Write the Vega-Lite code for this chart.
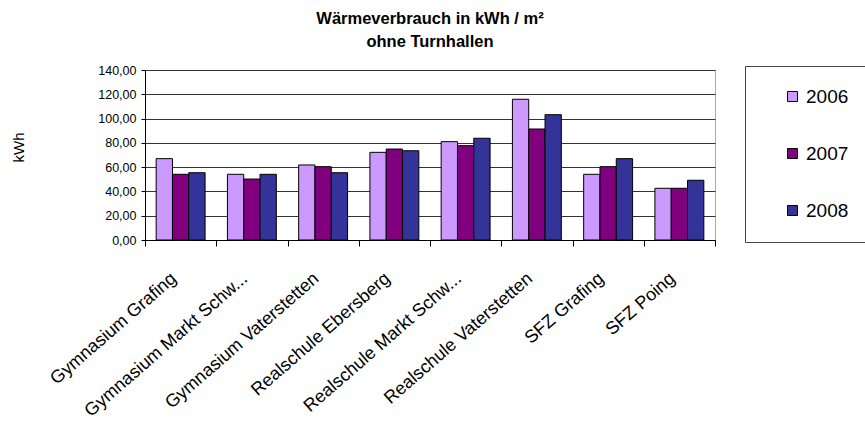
{
  "$schema": "https://vega.github.io/schema/vega-lite/v6.json",
  "autosize": {"type": "none"},
  "width": 570,
  "height": 170,
  "padding": {"left": 145, "top": 70, "right": 150, "bottom": 192},
  "background": "white",
  "title": {
    "text": ["Wärmeverbrauch in kWh / m²", "ohne Turnhallen"],
    "font": "Liberation Sans",
    "fontSize": 16.5,
    "fontWeight": "bold",
    "lineHeight": 23,
    "color": "#000",
    "anchor": "middle",
    "offset": 14
  },
  "data": {
    "values": [
      {"schule": "Gymnasium Grafing", "jahr": "2006", "wert": 67.0},
      {"schule": "Gymnasium Grafing", "jahr": "2007", "wert": 54.1},
      {"schule": "Gymnasium Grafing", "jahr": "2008", "wert": 55.4},
      {"schule": "Gymnasium Markt Schw...", "jahr": "2006", "wert": 54.1},
      {"schule": "Gymnasium Markt Schw...", "jahr": "2007", "wert": 50.2},
      {"schule": "Gymnasium Markt Schw...", "jahr": "2008", "wert": 54.1},
      {"schule": "Gymnasium Vaterstetten", "jahr": "2006", "wert": 61.8},
      {"schule": "Gymnasium Vaterstetten", "jahr": "2007", "wert": 60.4},
      {"schule": "Gymnasium Vaterstetten", "jahr": "2008", "wert": 55.4},
      {"schule": "Realschule Ebersberg", "jahr": "2006", "wert": 72.2},
      {"schule": "Realschule Ebersberg", "jahr": "2007", "wert": 74.9},
      {"schule": "Realschule Ebersberg", "jahr": "2008", "wert": 73.5},
      {"schule": "Realschule Markt Schw...", "jahr": "2006", "wert": 81.0},
      {"schule": "Realschule Markt Schw...", "jahr": "2007", "wert": 77.7},
      {"schule": "Realschule Markt Schw...", "jahr": "2008", "wert": 83.8},
      {"schule": "Realschule Vaterstetten", "jahr": "2006", "wert": 115.9},
      {"schule": "Realschule Vaterstetten", "jahr": "2007", "wert": 91.4},
      {"schule": "Realschule Vaterstetten", "jahr": "2008", "wert": 103.2},
      {"schule": "SFZ Grafing", "jahr": "2006", "wert": 54.1},
      {"schule": "SFZ Grafing", "jahr": "2007", "wert": 60.4},
      {"schule": "SFZ Grafing", "jahr": "2008", "wert": 67.0},
      {"schule": "SFZ Poing", "jahr": "2006", "wert": 42.6},
      {"schule": "SFZ Poing", "jahr": "2007", "wert": 42.6},
      {"schule": "SFZ Poing", "jahr": "2008", "wert": 49.2}
    ]
  },
  "mark": {"type": "bar", "stroke": "#000", "strokeWidth": 1},
  "encoding": {
    "x": {
      "field": "schule",
      "type": "nominal",
      "sort": null,
      "scale": {"paddingInner": 0, "paddingOuter": 0},
      "axis": {
        "title": null,
        "tickBand": "extent",
        "labelAngle": -41,
        "labelAlign": "right",
        "labelBaseline": "middle",
        "labelFontSize": 18,
        "labelPadding": 30,
        "labelOffset": -7,
        "tickSize": 6,
        "labelLimit": 400
      }
    },
    "xOffset": {
      "field": "jahr",
      "type": "nominal",
      "scale": {"paddingInner": 0, "paddingOuter": 0.685}
    },
    "y": {
      "field": "wert",
      "type": "quantitative",
      "scale": {"domain": [0, 140], "nice": false},
      "axis": {
        "title": "kWh",
        "titleFontSize": 15,
        "titleFontWeight": "normal",
        "titleX": -127,
        "titleY": 77,
        "titleAngle": -90,
        "titleAlign": "center",
        "titleBaseline": "middle",
        "values": [0, 20, 40, 60, 80, 100, 120, 140],
        "labelExpr": "replace(format(datum.value, '.2f'), '.', ',')",
        "labelFontSize": 12.5,
        "labelPadding": 5,
        "tickSize": 4,
        "grid": true,
        "gridColor": "#333",
        "gridWidth": 1
      }
    },
    "fill": {
      "field": "jahr",
      "type": "nominal",
      "scale": {"domain": ["2006", "2007", "2008"], "range": ["#CC99FF", "#800080", "#333399"]},
      "legend": {
        "title": null,
        "orient": "none",
        "legendX": 600,
        "legendY": -4,
        "padding": 21,
        "strokeColor": "#444",
        "fillColor": "white",
        "symbolType": "square",
        "symbolSize": 100,
        "symbolStrokeColor": "#000",
        "symbolStrokeWidth": 1,
        "symbolOffset": 17,
        "labelOffset": 4,
        "labelFontSize": 19,
        "rowPadding": 37
      }
    }
  },
  "config": {
    "font": "Liberation Sans",
    "view": {"stroke": "#aaa", "strokeWidth": 1},
    "axis": {
      "labelFont": "Liberation Sans",
      "titleFont": "Liberation Sans",
      "labelColor": "#000",
      "titleColor": "#000",
      "domainColor": "#000",
      "tickColor": "#000",
      "domainWidth": 1,
      "tickWidth": 1
    },
    "legend": {"labelFont": "Liberation Sans", "labelColor": "#000"}
  }
}
